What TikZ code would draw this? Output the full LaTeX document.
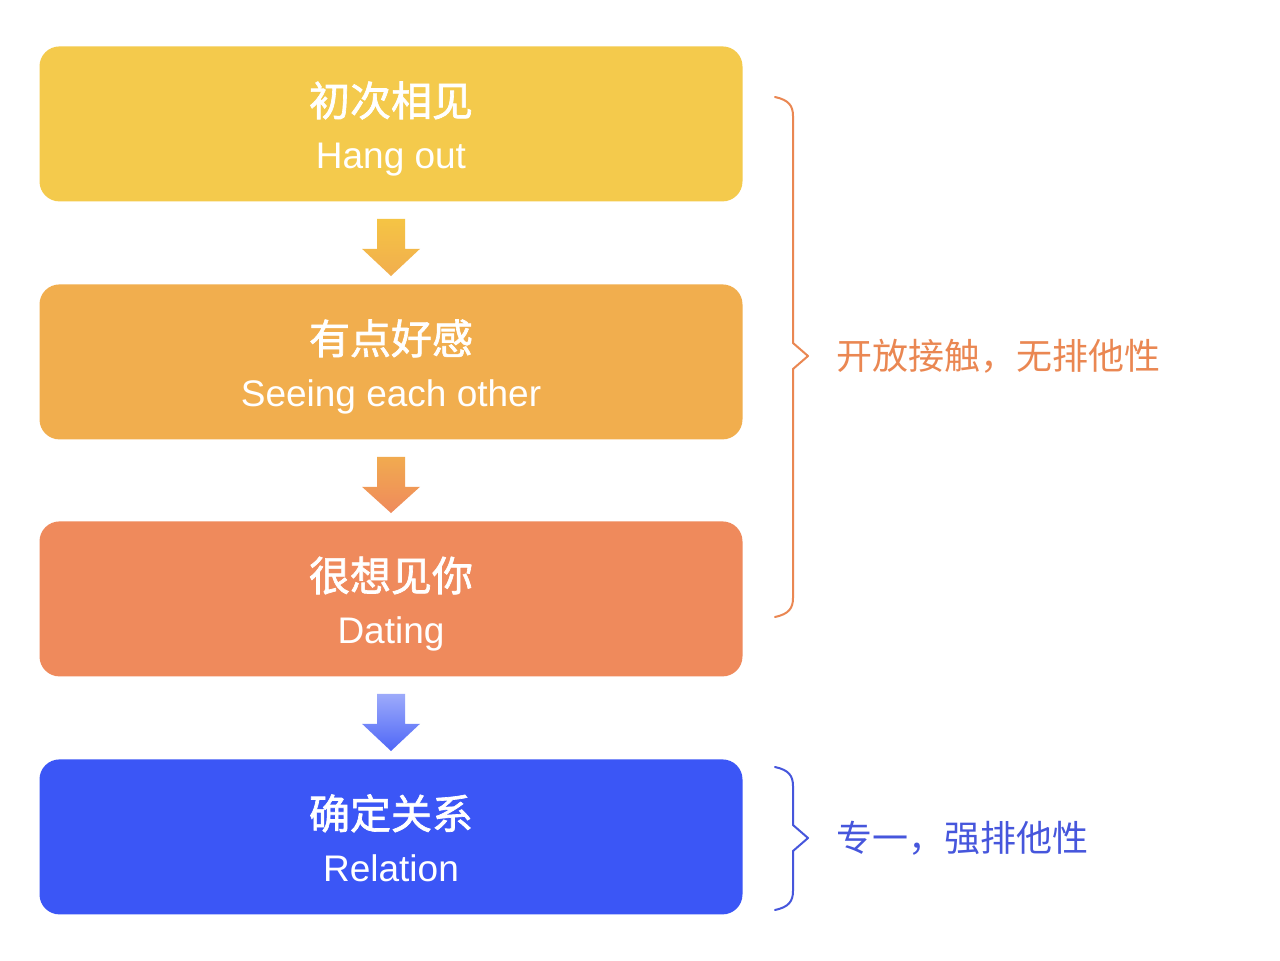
\documentclass[tikz,border=0pt]{standalone}
\usepackage{fontspec}
\setmainfont{Liberation Sans}
\newfontfamily\cjk{Noto Sans CJK SC}
\newfontfamily\cjkmid{Noto Sans CJK SC}[FakeBold=1.6]
\usetikzlibrary{calc,positioning}

\definecolor{boxyellow}{HTML}{F4CA4C}
\definecolor{boxamber}{HTML}{F1AE4E}
\definecolor{boxorange}{HTML}{EF8A5C}
\definecolor{boxblue}{HTML}{3B56F6}
\definecolor{arrowyellow}{HTML}{F5C444}
\definecolor{noteorange}{HTML}{EA8752}
\definecolor{noteblue}{HTML}{4656DC}

\begin{document}
\begin{tikzpicture}[x=0.5pt,y=0.5pt,
    stage/.style={anchor=north,rounded corners=10pt,minimum width=351.5pt,minimum height=77.5pt,inner sep=0pt},
    title/.style={anchor=base,text=white,font=\cjkmid\fontsize{20.5}{24}\selectfont,inner sep=0pt},
    sub/.style={anchor=base,text=white,font=\fontsize{18.5}{22}\selectfont,inner sep=0pt},
    note/.style={anchor=west,font=\cjk\fontsize{18}{22}\selectfont,inner sep=0pt},
    brace/.style={line width=1pt,line cap=round,line join=round}]
    \useasboundingbox[fill=white] (0,0) rectangle (1280,-960);
    %% Stages
    \node[stage,fill=boxyellow] (meet) at (391,-46) {};
    \node[stage,fill=boxamber] (like) at (391,-284) {};
    \node[stage,fill=boxorange] (date) at (391,-521) {};
    \node[stage,fill=boxblue] (rel) at (391,-759) {};
    %% Texts
    \node[title] (meetT) at ($(meet.north)+(0,-70)$) {初次相见};
    \node[sub] (meetS) at ($(meet.north)+(0,-122)$) {Hang out};
    \node[title] (likeT) at ($(like.north)+(0,-70)$) {有点好感};
    \node[sub] (likeS) at ($(like.north)+(0,-122)$) {Seeing each other};
    \node[title] (dateT) at ($(date.north)+(0,-70)$) {很想见你};
    \node[sub] (dateS) at ($(date.north)+(0,-122)$) {Dating};
    \node[title] (relT) at ($(rel.north)+(0,-70)$) {确定关系};
    \node[sub] (relS) at ($(rel.north)+(0,-122)$) {Relation};
    %% Arrows
    \path[top color=arrowyellow,bottom color=boxamber] ($(meet.south)+(-14,-17)$) -- ++(28,0) -- ++(0,-30) -- ++(15,0) -- ($(like.north)+(0,8)$) -- ($(meet.south)+(-29,-47)$) -- ++(15,0) -- cycle;
    \path[top color=boxamber!90!boxorange,bottom color=boxorange] ($(like.south)+(-14,-17)$) -- ++(28,0) -- ++(0,-30) -- ++(15,0) -- ($(date.north)+(0,8)$) -- ($(like.south)+(-29,-47)$) -- ++(15,0) -- cycle;
    \path[top color=boxblue!50!white,bottom color=boxblue!90!white] ($(date.south)+(-14,-17)$) -- ++(28,0) -- ++(0,-30) -- ++(15,0) -- ($(rel.north)+(0,8)$) -- ($(date.south)+(-29,-47)$) -- ++(15,0) -- cycle;
    %% Braces
    \draw[brace,noteorange] (775,-97) .. controls (789,-100) and (793,-106) .. (793,-116) -- (793,-343) -- (808,-356) -- (793,-369) -- (793,-598) .. controls (793,-608) and (789,-614) .. (775,-617);
    \coordinate (openTip) at (808,-356);
    \node[note,text=noteorange,right=14pt of openTip] (open) {开放接触，无排他性};
    \draw[brace,noteblue] (775,-767) .. controls (789,-770) and (793,-776) .. (793,-786) -- (793,-825) -- (808,-838) -- (793,-851) -- (793,-891) .. controls (793,-901) and (789,-907) .. (775,-910);
    \coordinate (onlyTip) at (808,-838);
    \node[note,text=noteblue,right=14pt of onlyTip] (only) {专一，强排他性};
\end{tikzpicture}
\end{document}
